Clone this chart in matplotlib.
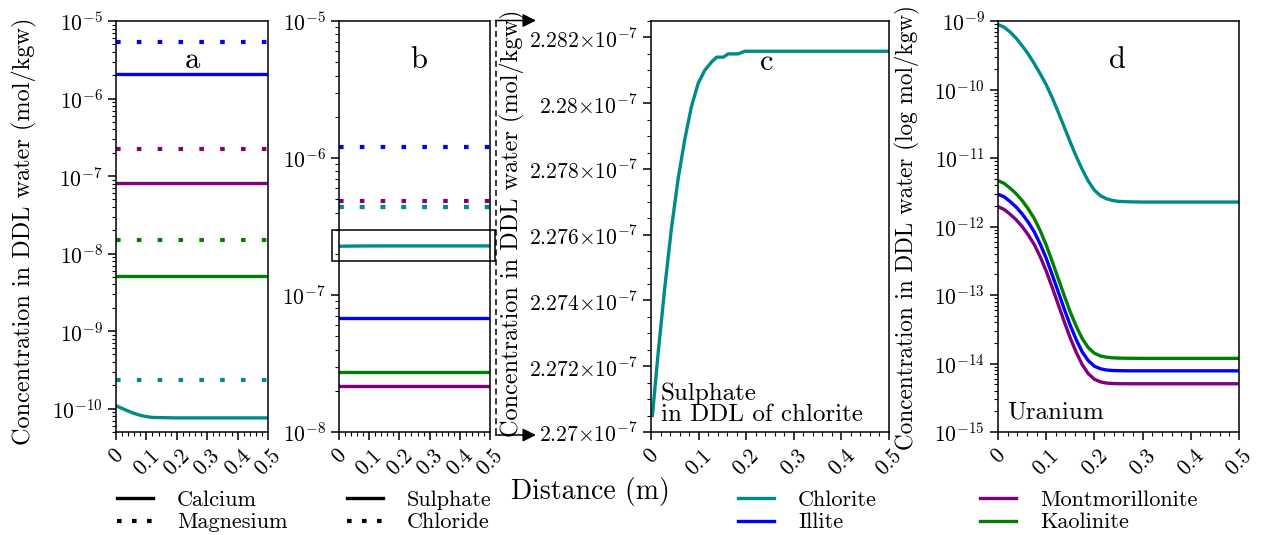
import numpy as np
import matplotlib
matplotlib.use("Agg")
import matplotlib.pyplot as plt
from matplotlib.ticker import FixedLocator, FixedFormatter, MultipleLocator, LogLocator, NullFormatter, FuncFormatter
from matplotlib.lines import Line2D
from matplotlib.patches import Rectangle, FancyArrowPatch

plt.rcParams.update({
    "font.family": "serif",
    "font.serif": ["cmr10"],
    "mathtext.fontset": "cm",
    "axes.unicode_minus": False,
    "axes.formatter.use_mathtext": True,
    "axes.linewidth": 1.1,
})

# ---- data -------------------------------------------------------------
minerals = ["Chlorite", "Illite", "Montmorillonite", "Kaolinite"]
mineral_colors = ["#008b8b", "#0000ff", "#800080", "#008000"]

x_ticks = [0, 0.1, 0.2, 0.3, 0.4, 0.5]
x_tick_labels = ["0", "0.1", "0.2", "0.3", "0.4", "0.5"]
x_ends = [0.0, 0.5]

# (a) calcium (solid) and magnesium (dotted), order: Illite, Montmorillonite, Kaolinite
a_calcium_flat = [2.07e-6, 8.2e-8, 5.2e-9]
a_chlorite_calcium_x = [0.0, 0.035, 0.055, 0.08, 0.1, 0.12, 0.2, 0.5]
a_chlorite_calcium = [1.09e-10, 9.5e-11, 8.8e-11, 8.2e-11, 7.9e-11, 7.7e-11, 7.6e-11, 7.6e-11]
# order: Chlorite, Illite, Montmorillonite, Kaolinite
a_magnesium = [2.37e-10, 5.4e-6, 2.22e-7, 1.48e-8]

# (b) sulphate (solid) and chloride (dotted), order: Illite, Montmorillonite, Kaolinite
b_sulphate_flat = [6.8e-8, 2.17e-8, 2.74e-8]
# order: Chlorite, Illite, Montmorillonite, Kaolinite
b_chloride = [4.36e-7, 1.2e-6, 4.83e-7, 4.4e-7]

# (c) sulphate in the DDL of chlorite
c_x = [0.003, 0.015, 0.029, 0.043, 0.057, 0.071, 0.085, 0.099, 0.113,
       0.127, 0.138, 0.152, 0.162, 0.183, 0.197, 0.5]
c_sulphate = [2.2705e-7, 2.2724e-7, 2.2744e-7, 2.2762e-7, 2.2777e-7, 2.2789e-7,
              2.2799e-7, 2.2806e-7, 2.2810e-7, 2.28125e-7, 2.2814e-7, 2.2814e-7,
              2.2815e-7, 2.2815e-7, 2.28158e-7, 2.28158e-7]
c_yticks = [2.270e-7, 2.272e-7, 2.274e-7, 2.276e-7, 2.278e-7, 2.280e-7, 2.282e-7]

# (d) uranium, log10 of concentration (log mol/kgw)
d_x = [0.0, 0.0125, 0.025, 0.0375, 0.05, 0.0625, 0.075, 0.0875, 0.1, 0.1125, 0.125,
       0.1375, 0.15, 0.1625, 0.175, 0.1875, 0.2, 0.2125, 0.225, 0.2375, 0.25,
       0.275, 0.3, 0.5]
d_log_chlorite = [-9.05, -9.09, -9.16, -9.25, -9.36, -9.48, -9.62, -9.77, -9.93, -10.12,
                  -10.33, -10.55, -10.77, -10.98, -11.17, -11.34, -11.47, -11.55, -11.595,
                  -11.62, -11.633, -11.64, -11.643, -11.643]
d_log_illite = [-11.53, -11.565, -11.635, -11.715, -11.815, -11.935, -12.075, -12.255,
                -12.465, -12.705, -12.955, -13.205, -13.445, -13.655, -13.835, -13.96,
                -14.04, -14.077, -14.095, -14.102, -14.105, -14.107, -14.107, -14.107]
d_log_montmorillonite = [-11.71, -11.75, -11.82, -11.90, -12.00, -12.12, -12.26, -12.44,
                         -12.65, -12.89, -13.14, -13.39, -13.63, -13.84, -14.02, -14.15,
                         -14.23, -14.268, -14.286, -14.292, -14.295, -14.296, -14.296, -14.296]
d_log_kaolinite = [-11.33, -11.37, -11.44, -11.52, -11.62, -11.74, -11.88, -12.06, -12.27,
                   -12.51, -12.76, -13.01, -13.25, -13.46, -13.64, -13.77, -13.85, -13.89,
                   -13.908, -13.917, -13.921, -13.924, -13.925, -13.925]

# ---- styling ----------------------------------------------------------
W, H = 1262, 535
SOLID_LW = 2.4
DOT_LW = 3.0
DOTTED = (0, (1.1, 3.9))
LEGEND_DOTTED = (0, (1.1, 2.5))
TICK_FS = 15.5
LABEL_FS = 17.5
LEGEND_FS = 16
PANEL_FS = 22

fig = plt.figure(figsize=(W / 100, H / 100), dpi=100)


def axes_px(left, right, top=21, bottom=432):
    return fig.add_axes([left / W, 1 - bottom / H, (right - left) / W, (bottom - top) / H])


def style_axes(ax, log=True):
    ax.set_xlim(0, 0.5)
    ax.xaxis.set_major_locator(FixedLocator(x_ticks))
    ax.xaxis.set_major_formatter(FixedFormatter(x_tick_labels))
    ax.xaxis.set_minor_locator(MultipleLocator(0.02))
    ax.tick_params(which="major", direction="out", length=6, width=1.1,
                   labelsize=TICK_FS, top=False, right=False)
    ax.tick_params(which="minor", direction="out", length=3, width=0.8,
                   top=False, right=False)
    for lab in ax.get_xticklabels():
        lab.set_rotation(45)
        lab.set_ha("center")
    if log:
        ax.set_yscale("log")
        ax.yaxis.set_major_locator(LogLocator(base=10, numticks=20))
        ax.yaxis.set_minor_locator(LogLocator(base=10, subs=np.arange(2, 10), numticks=200))
        ax.yaxis.set_minor_formatter(NullFormatter())


ax_a = axes_px(116, 268)
ax_b = axes_px(339, 490)
ax_c = axes_px(651, 889)
ax_d = axes_px(998, 1239)

# (a)
for val, col in zip(a_calcium_flat, mineral_colors[1:]):
    ax_a.plot(x_ends, [val, val], color=col, lw=SOLID_LW)
ax_a.plot(a_chlorite_calcium_x, a_chlorite_calcium, color=mineral_colors[0], lw=SOLID_LW)
for val, col in zip(a_magnesium, mineral_colors):
    ax_a.plot(x_ends, [val, val], color=col, lw=DOT_LW, ls=DOTTED)
style_axes(ax_a)
ax_a.set_ylim(5e-11, 1e-5)
ax_a.text(0.5, 0.905, "a", transform=ax_a.transAxes, ha="center", va="center", fontsize=PANEL_FS)

# (b)
ax_b.plot(c_x, c_sulphate, color=mineral_colors[0], lw=SOLID_LW)
for val, col in zip(b_sulphate_flat, mineral_colors[1:]):
    ax_b.plot(x_ends, [val, val], color=col, lw=SOLID_LW)
for idx in [1, 2, 3, 0]:
    ax_b.plot(x_ends, [b_chloride[idx]] * 2, color=mineral_colors[idx], lw=DOT_LW, ls=DOTTED)
style_axes(ax_b)
ax_b.set_ylim(1e-8, 1e-5)
ax_b.text(0.53, 0.905, "b", transform=ax_b.transAxes, ha="center", va="center", fontsize=PANEL_FS)
ax_b.add_patch(Rectangle((-0.024, 1.76e-7), 0.54, 2.96e-7 - 1.76e-7, fill=False,
                         ec="black", lw=1.1, clip_on=False, zorder=5))

# (c)
ax_c.plot(c_x, c_sulphate, color=mineral_colors[0], lw=SOLID_LW)
style_axes(ax_c, log=False)
ax_c.set_ylim(2.27e-7, 2.2825e-7)
ax_c.yaxis.set_major_locator(FixedLocator(c_yticks))
ax_c.yaxis.set_minor_locator(FixedLocator(np.linspace(2.27e-7, 2.2825e-7, 26)))
ax_c.yaxis.set_major_formatter(FuncFormatter(
    lambda v, pos: r"$%s{\times}10^{-7}$" % ("%.3f" % (v * 1e7)).rstrip("0")))
ax_c.text(0.487, 0.9, "c", transform=ax_c.transAxes, ha="center", va="center", fontsize=PANEL_FS)
ax_c.text(0.04, 0.015, "Sulphate\nin DDL of chlorite", transform=ax_c.transAxes,
          ha="left", va="bottom", fontsize=18, linespacing=0.9)

# (d)
for series, col in zip([d_log_chlorite, d_log_illite, d_log_montmorillonite, d_log_kaolinite],
                       mineral_colors):
    ax_d.plot(d_x, np.power(10.0, series), color=col, lw=SOLID_LW)
style_axes(ax_d)
ax_d.set_ylim(1e-15, 1e-9)
ax_d.text(0.494, 0.905, "d", transform=ax_d.transAxes, ha="center", va="center", fontsize=PANEL_FS)
ax_d.text(0.04, 0.02, "Uranium", transform=ax_d.transAxes, ha="left", va="bottom", fontsize=18)

# y labels
fig.text(24 / W, 1 - 231 / H, "Concentration in DDL water (mol/kgw)", rotation=90,
         ha="center", va="center", fontsize=LABEL_FS)
fig.text(512 / W, 1 - 223 / H, "Concentration in DDL water (mol/kgw)", rotation=90,
         ha="center", va="center", fontsize=LABEL_FS)
fig.text(907 / W, 1 - 228 / H, "Concentration in DDL water (log mol/kgw)", rotation=90,
         ha="center", va="center", fontsize=16.7)
fig.text(590 / W, 1 - 492 / H, "Distance (m)", ha="center", va="center", fontsize=20)

# zoom bracket from panel b to panel c
bx = 495.5
fig.add_artist(Line2D([bx / W, bx / W], [1 - 20.5 / H, 1 - 435 / H], transform=fig.transFigure,
                      color="black", lw=1.1, ls=(0, (4, 2.5))))
for yy in (20.5, 435):
    fig.add_artist(FancyArrowPatch((bx / W, 1 - yy / H), (536 / W, 1 - yy / H),
                                   transform=fig.transFigure, arrowstyle="-|>",
                                   mutation_scale=20, color="black", lw=1.1,
                                   shrinkA=0, shrinkB=0))

# legends
solid_h = Line2D([], [], color="black", lw=SOLID_LW)
dot_h = Line2D([], [], color="black", lw=DOT_LW, ls=LEGEND_DOTTED)
leg_kw = dict(loc="upper left", frameon=False, borderpad=0, borderaxespad=0,
              handlelength=1.6, handletextpad=1.1, labelspacing=0.15, fontsize=LEGEND_FS)


def add_legend(handles, labels, x_px, y_px=490):
    fig.legend(handles, labels, bbox_to_anchor=(x_px / W, 1 - y_px / H), **leg_kw)


add_legend([solid_h, dot_h], ["Calcium", "Magnesium"], 117)
add_legend([solid_h, dot_h], ["Sulphate", "Chloride"], 347)
add_legend([Line2D([], [], color=mineral_colors[0], lw=SOLID_LW),
            Line2D([], [], color=mineral_colors[1], lw=SOLID_LW)], ["Chlorite", "Illite"], 738)
add_legend([Line2D([], [], color=mineral_colors[2], lw=SOLID_LW),
            Line2D([], [], color=mineral_colors[3], lw=SOLID_LW)], ["Montmorillonite", "Kaolinite"], 980)

fig.savefig("out.png", dpi=100)
